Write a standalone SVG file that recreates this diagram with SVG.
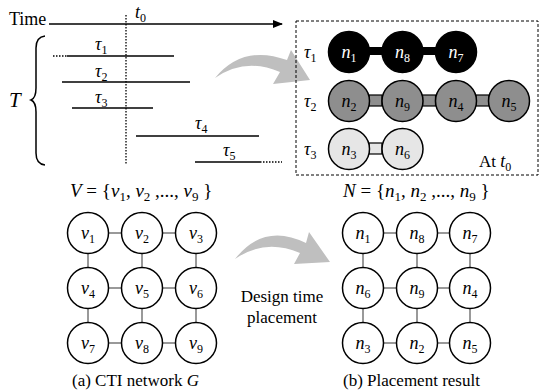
<svg xmlns="http://www.w3.org/2000/svg" width="539" height="390" viewBox="0 0 539 390" font-family="'Liberation Serif', Tinos, 'Times New Roman', 'DejaVu Serif', 'Noto Serif', serif">
<style>
text{font-family:'Liberation Serif',Tinos,'Times New Roman','DejaVu Serif','Noto Serif',serif;fill:#000}
.i{font-style:italic}
.lbl{font-size:18px;text-anchor:middle}
.cap{font-size:17px}
.c{fill:#fff;stroke:#000;stroke-width:1.5}
.lk{stroke:#777;stroke-width:1.5}
.tl{stroke:#000;stroke-width:1.3}
.dot{stroke:#000;stroke-width:1.3;stroke-dasharray:1.5,1.5}
.arr{fill:#bfbfbf}
.w{fill:#fff}
</style>
<defs>
<marker id="ah" markerWidth="10" markerHeight="8" refX="9" refY="4" orient="auto" markerUnits="userSpaceOnUse">
<path d="M0,0 L10,4 L0,8 Z" fill="#000"/>
</marker>
</defs>

<!-- Timeline -->
<g id="timeline">
<text x="9" y="25" font-size="18">Time</text>
<line x1="49" y1="24" x2="282" y2="24" stroke="#000" stroke-width="1.5" marker-end="url(#ah)"/>
<text x="135" y="18" font-size="18"><tspan class="i">t</tspan><tspan font-size="12" dy="4">0</tspan></text>
<line x1="126" y1="15" x2="126" y2="164" class="dot"/>
<path d="M45,36 Q36,37 36,48 L36,88 Q36,98 31,100 Q36,102 36,112 L36,153 Q36,164 45,165" fill="none" stroke="#000" stroke-width="1.5"/>
<text x="9" y="107" font-size="21" class="i">T</text>
</g>

<g id="tasks">
<line x1="53" y1="56" x2="67" y2="56" class="dot"/>
<line x1="67" y1="56" x2="174" y2="56" class="tl"/>
<text x="95" y="50" font-size="18"><tspan class="i">τ</tspan><tspan font-size="12" dy="4">1</tspan></text>
<line x1="62" y1="82" x2="190" y2="82" class="tl"/>
<text x="95" y="77" font-size="18"><tspan class="i">τ</tspan><tspan font-size="12" dy="4">2</tspan></text>
<line x1="72" y1="108" x2="153" y2="108" class="tl"/>
<text x="95" y="103" font-size="18"><tspan class="i">τ</tspan><tspan font-size="12" dy="4">3</tspan></text>
<line x1="136" y1="136" x2="259" y2="136" class="tl"/>
<text x="195" y="129" font-size="18"><tspan class="i">τ</tspan><tspan font-size="12" dy="4">4</tspan></text>
<line x1="195" y1="162" x2="260" y2="162" class="tl"/>
<line x1="260" y1="162" x2="282" y2="162" class="dot"/>
<text x="223" y="156" font-size="18"><tspan class="i">τ</tspan><tspan font-size="12" dy="4">5</tspan></text>
</g>

<!-- Arrows -->
<g id="arrows">
<path class="arr" d="M215,78 Q243,44 287,60 L291,50 L310,80 L273,84 L280,72 Q245,57 215,78 Z"/>
<path class="arr" d="M235,259 Q264,222 306,243 L309,232 L330,262 L294,264 L300,253 Q265,238 235,259 Z"/>
</g>

<!-- Snapshot box -->
<g id="snapshot">
<rect x="296" y="21" width="242" height="154" fill="none" stroke="#000" stroke-width="1" stroke-dasharray="3,2"/>
<text x="304" y="58" font-size="18"><tspan class="i">τ</tspan><tspan font-size="12" dy="4">1</tspan></text>
<text x="304" y="107" font-size="18"><tspan class="i">τ</tspan><tspan font-size="12" dy="4">2</tspan></text>
<text x="304" y="155" font-size="18"><tspan class="i">τ</tspan><tspan font-size="12" dy="4">3</tspan></text>
<text x="479" y="167" font-size="17">At <tspan class="i" font-size="18">t</tspan><tspan font-size="12" dy="4">0</tspan></text>
</g>

<g id="row1">
<rect x="365" y="47" width="90" height="8" fill="#000"/>
<circle cx="349" cy="52" r="20.5" fill="#000" stroke="#000" stroke-width="1.5"/>
<circle cx="402.5" cy="52" r="20.5" fill="#000" stroke="#000" stroke-width="1.5"/>
<circle cx="456" cy="52" r="20.5" fill="#000" stroke="#000" stroke-width="1.5"/>
<text x="349" y="58" class="lbl w"><tspan class="i w">n</tspan><tspan class="w" font-size="12" dy="4">1</tspan></text>
<text x="402.5" y="58" class="lbl w"><tspan class="i w">n</tspan><tspan class="w" font-size="12" dy="4">8</tspan></text>
<text x="456" y="58" class="lbl w"><tspan class="i w">n</tspan><tspan class="w" font-size="12" dy="4">7</tspan></text>
</g>

<g id="row2">
<rect x="369" y="95" width="13" height="11" fill="#8e8e8e" stroke="#000" stroke-width="1.2"/>
<rect x="422.5" y="95" width="13" height="11" fill="#8e8e8e" stroke="#000" stroke-width="1.2"/>
<rect x="476" y="95" width="13" height="11" fill="#8e8e8e" stroke="#000" stroke-width="1.2"/>
<circle cx="349" cy="101" r="20.5" fill="#8e8e8e" stroke="#000" stroke-width="1.5"/>
<circle cx="402.5" cy="101" r="20.5" fill="#8e8e8e" stroke="#000" stroke-width="1.5"/>
<circle cx="456" cy="101" r="20.5" fill="#8e8e8e" stroke="#000" stroke-width="1.5"/>
<circle cx="509" cy="101" r="20.5" fill="#8e8e8e" stroke="#000" stroke-width="1.5"/>
<text x="349" y="107" class="lbl"><tspan class="i">n</tspan><tspan font-size="12" dy="4">2</tspan></text>
<text x="402.5" y="107" class="lbl"><tspan class="i">n</tspan><tspan font-size="12" dy="4">9</tspan></text>
<text x="456" y="107" class="lbl"><tspan class="i">n</tspan><tspan font-size="12" dy="4">4</tspan></text>
<text x="509" y="107" class="lbl"><tspan class="i">n</tspan><tspan font-size="12" dy="4">5</tspan></text>
</g>

<g id="row3">
<rect x="369" y="143" width="13" height="11" fill="#e6e6e6" stroke="#000" stroke-width="1.2"/>
<circle cx="349" cy="149" r="20.5" fill="#e6e6e6" stroke="#000" stroke-width="1.5"/>
<circle cx="402.5" cy="149" r="20.5" fill="#e6e6e6" stroke="#000" stroke-width="1.5"/>
<text x="349" y="155" class="lbl"><tspan class="i">n</tspan><tspan font-size="12" dy="4">3</tspan></text>
<text x="402.5" y="155" class="lbl"><tspan class="i">n</tspan><tspan font-size="12" dy="4">6</tspan></text>
</g>

<!-- Grid connectors -->
<g id="connectors">
<line class="lk" x1="108.5" y1="233" x2="121.5" y2="233"/><line class="lk" x1="162.5" y1="233" x2="175.5" y2="233"/>
<line class="lk" x1="108.5" y1="288" x2="121.5" y2="288"/><line class="lk" x1="162.5" y1="288" x2="175.5" y2="288"/>
<line class="lk" x1="108.5" y1="343" x2="121.5" y2="343"/><line class="lk" x1="162.5" y1="343" x2="175.5" y2="343"/>
<line class="lk" x1="88" y1="253.5" x2="88" y2="267.5"/><line class="lk" x1="142" y1="253.5" x2="142" y2="267.5"/><line class="lk" x1="196" y1="253.5" x2="196" y2="267.5"/>
<line class="lk" x1="88" y1="308.5" x2="88" y2="322.5"/><line class="lk" x1="142" y1="308.5" x2="142" y2="322.5"/><line class="lk" x1="196" y1="308.5" x2="196" y2="322.5"/>
<line class="lk" x1="383.5" y1="233" x2="396.5" y2="233"/><line class="lk" x1="437.5" y1="233" x2="449.5" y2="233"/>
<line class="lk" x1="383.5" y1="288" x2="396.5" y2="288"/><line class="lk" x1="437.5" y1="288" x2="449.5" y2="288"/>
<line class="lk" x1="383.5" y1="343" x2="396.5" y2="343"/><line class="lk" x1="437.5" y1="343" x2="449.5" y2="343"/>
<line class="lk" x1="363" y1="253.5" x2="363" y2="267.5"/><line class="lk" x1="417" y1="253.5" x2="417" y2="267.5"/><line class="lk" x1="470" y1="253.5" x2="470" y2="267.5"/>
<line class="lk" x1="363" y1="308.5" x2="363" y2="322.5"/><line class="lk" x1="417" y1="308.5" x2="417" y2="322.5"/><line class="lk" x1="470" y1="308.5" x2="470" y2="322.5"/>
</g>

<!-- Left grid -->
<text x="70" y="197" font-size="19"><tspan class="i">V</tspan> = {<tspan class="i">v</tspan><tspan font-size="13" dy="4">1</tspan><tspan dy="-4">, </tspan><tspan class="i">v</tspan><tspan font-size="13" dy="4">2</tspan><tspan dy="-4"> ,..., </tspan><tspan class="i">v</tspan><tspan font-size="13" dy="4">9</tspan><tspan dy="-4"> }</tspan></text>
<g id="v1"><circle class="c" cx="88" cy="233" r="20.5"/><text x="88" y="239" class="lbl"><tspan class="i">v</tspan><tspan font-size="12" dy="4">1</tspan></text></g>
<g id="v2"><circle class="c" cx="142" cy="233" r="20.5"/><text x="142" y="239" class="lbl"><tspan class="i">v</tspan><tspan font-size="12" dy="4">2</tspan></text></g>
<g id="v3"><circle class="c" cx="196" cy="233" r="20.5"/><text x="196" y="239" class="lbl"><tspan class="i">v</tspan><tspan font-size="12" dy="4">3</tspan></text></g>
<g id="v4"><circle class="c" cx="88" cy="288" r="20.5"/><text x="88" y="294" class="lbl"><tspan class="i">v</tspan><tspan font-size="12" dy="4">4</tspan></text></g>
<g id="v5"><circle class="c" cx="142" cy="288" r="20.5"/><text x="142" y="294" class="lbl"><tspan class="i">v</tspan><tspan font-size="12" dy="4">5</tspan></text></g>
<g id="v6"><circle class="c" cx="196" cy="288" r="20.5"/><text x="196" y="294" class="lbl"><tspan class="i">v</tspan><tspan font-size="12" dy="4">6</tspan></text></g>
<g id="v7"><circle class="c" cx="88" cy="343" r="20.5"/><text x="88" y="349" class="lbl"><tspan class="i">v</tspan><tspan font-size="12" dy="4">7</tspan></text></g>
<g id="v8"><circle class="c" cx="142" cy="343" r="20.5"/><text x="142" y="349" class="lbl"><tspan class="i">v</tspan><tspan font-size="12" dy="4">8</tspan></text></g>
<g id="v9"><circle class="c" cx="196" cy="343" r="20.5"/><text x="196" y="349" class="lbl"><tspan class="i">v</tspan><tspan font-size="12" dy="4">9</tspan></text></g>
<text x="72" y="386" class="cap">(a) CTI network <tspan class="i">G</tspan></text>

<!-- Middle label -->
<text x="282" y="302" class="cap" text-anchor="middle">Design time</text>
<text x="282" y="323" class="cap" text-anchor="middle">placement</text>

<!-- Right grid -->
<text x="343" y="197" font-size="19"><tspan class="i">N</tspan> = {<tspan class="i">n</tspan><tspan font-size="13" dy="4">1</tspan><tspan dy="-4">, </tspan><tspan class="i">n</tspan><tspan font-size="13" dy="4">2</tspan><tspan dy="-4"> ,..., </tspan><tspan class="i">n</tspan><tspan font-size="13" dy="4">9</tspan><tspan dy="-4"> }</tspan></text>
<g id="g1"><circle class="c" cx="363" cy="233" r="20.5"/><text x="363" y="239" class="lbl"><tspan class="i">n</tspan><tspan font-size="12" dy="4">1</tspan></text></g>
<g id="g2"><circle class="c" cx="417" cy="233" r="20.5"/><text x="417" y="239" class="lbl"><tspan class="i">n</tspan><tspan font-size="12" dy="4">8</tspan></text></g>
<g id="g3"><circle class="c" cx="470" cy="233" r="20.5"/><text x="470" y="239" class="lbl"><tspan class="i">n</tspan><tspan font-size="12" dy="4">7</tspan></text></g>
<g id="g4"><circle class="c" cx="363" cy="288" r="20.5"/><text x="363" y="294" class="lbl"><tspan class="i">n</tspan><tspan font-size="12" dy="4">6</tspan></text></g>
<g id="g5"><circle class="c" cx="417" cy="288" r="20.5"/><text x="417" y="294" class="lbl"><tspan class="i">n</tspan><tspan font-size="12" dy="4">9</tspan></text></g>
<g id="g6"><circle class="c" cx="470" cy="288" r="20.5"/><text x="470" y="294" class="lbl"><tspan class="i">n</tspan><tspan font-size="12" dy="4">4</tspan></text></g>
<g id="g7"><circle class="c" cx="363" cy="343" r="20.5"/><text x="363" y="349" class="lbl"><tspan class="i">n</tspan><tspan font-size="12" dy="4">3</tspan></text></g>
<g id="g8"><circle class="c" cx="417" cy="343" r="20.5"/><text x="417" y="349" class="lbl"><tspan class="i">n</tspan><tspan font-size="12" dy="4">2</tspan></text></g>
<g id="g9"><circle class="c" cx="470" cy="343" r="20.5"/><text x="470" y="349" class="lbl"><tspan class="i">n</tspan><tspan font-size="12" dy="4">5</tspan></text></g>
<text x="343" y="386" class="cap">(b) Placement result</text>
</svg>
